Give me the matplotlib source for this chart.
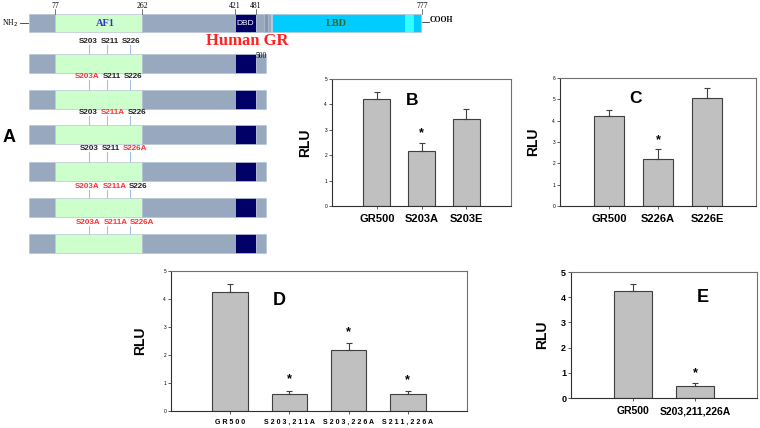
import matplotlib
matplotlib.use("Agg")
import matplotlib.pyplot as plt
from matplotlib.patches import Rectangle

plt.rcParams['font.family'] = ['Liberation Sans', 'DejaVu Sans']

# ---------------- data ----------------
gr_landmarks = ["77", "262", "421", "481", "777"]
site_rows = [
    ["S203", "S211", "S226"],
    ["S203A", "S211", "S226"],
    ["S203", "S211A", "S226"],
    ["S203", "S211", "S226A"],
    ["S203A", "S211A", "S226"],
    ["S203A", "S211A", "S226A"],
]

b_cats = ["GR500", "S203A", "S203E"]
b_vals = [4.23, 2.18, 3.42]
b_err = [0.26, 0.30, 0.38]
b_sig = [False, True, False]

c_cats = ["GR500", "S226A", "S226E"]
c_vals = [4.20, 2.20, 5.07]
c_err = [0.30, 0.45, 0.46]
c_sig = [False, True, False]

d_cats = ["GR500", "S203,211A", "S203,226A", "S211,226A"]
d_vals = [4.25, 0.60, 2.18, 0.60]
d_err = [0.29, 0.12, 0.25, 0.10]
d_sig = [False, True, True, True]

e_cats = ["GR500", "S203,211,226A"]
e_vals = [4.24, 0.48]
e_err = [0.28, 0.10]
e_sig = [False, True]

# ---------------- figure ----------------
W, H = 760, 428
fig = plt.figure(figsize=(7.6, 4.28), dpi=100)
fig.patch.set_facecolor('white')

# schematic canvas in pixel coordinates
ax0 = fig.add_axes([0, 0, 1, 1])
ax0.set_xlim(0, W)
ax0.set_ylim(H, 0)
ax0.axis('off')

GRAY = '#98a8be'
GREEN = '#ccffcc'
NAVY = '#000066'
CYAN = '#00ccff'
LCYAN = '#33ffff'
EDGE = '#b8c4d4'


def rect(x0, x1, y, h, color, z=2):
    ax0.add_patch(Rectangle((x0, y), x1 - x0, h, facecolor=color,
                            edgecolor=EDGE, lw=0.5, zorder=z))

# full-length receptor
ty, th = 14, 18
rect(29, 55, ty, th, GRAY)
rect(55, 142, ty, th, GREEN)
rect(142, 235, ty, th, GRAY)
rect(235, 256, ty, th, NAVY)
rect(256, 271, ty, th, GRAY)
rect(264, 268, ty, th, '#8797ae', z=3)
rect(272, 405, ty, th, CYAN)
rect(405, 413, ty, th, LCYAN)
rect(413, 421, ty, th, CYAN)
ax0.text(105, ty + th / 2, "AF1", color='#3333cc', fontsize=7.5, ha='center',
         va='center', family='Liberation Serif', fontweight='bold')
ax0.text(245.5, ty + th / 2, "DBD", color='white', fontsize=6, ha='center', va='center')
ax0.text(336, ty + th / 2, "LBD", color='#336633', fontsize=7.5, ha='center',
         va='center', family='Liberation Serif', fontweight='bold')
for lab, xx in zip(gr_landmarks, [55, 142, 235, 256, 422]):
    ax0.plot([xx, xx], [9, 14], color='#444444', lw=0.5, zorder=4)
    ax0.text(xx, 6, lab, fontsize=5.5, ha='center', va='center', family='Liberation Serif')
ax0.plot([20, 28], [23, 23], color='#333333', lw=0.6)
ax0.text(2, 23, r"NH$_2$", fontsize=5.5, ha='left', va='center', family='Liberation Serif')
ax0.plot([422, 429], [22, 22], color='#333333', lw=0.6)
ax0.text(430, 20, "COOH", fontsize=5.5, ha='left', va='center',
         family='Liberation Serif', fontweight='bold')
ax0.text(247, 41, "Human GR", color='#ff2222', fontsize=12, ha='center', va='center',
         family='Liberation Serif', fontweight='bold')
ax0.text(261, 56, "500", fontsize=5.5, ha='center', va='center', family='Liberation Serif')

# truncated constructs
row_tops = [54, 90, 125, 162, 198, 234]
label_ys = [41, 76, 112, 148, 186, 222]
label_lefts = [79, 75, 79, 80, 75, 76]
line_xs = [89, 107, 130]
rh = 19
for rt in row_tops:
    rect(29, 55, rt, rh, GRAY)
    rect(55, 142, rt, rh, GREEN)
    rect(142, 235, rt, rh, GRAY)
    rect(235, 256, rt, rh, NAVY)
    rect(256, 266, rt, rh, GRAY)

fig.canvas.draw()
for sites, ly, lx, rt in zip(site_rows, label_ys, label_lefts, row_tops):
    for xx in line_xs:
        ax0.plot([xx, xx], [ly + 4, rt + 1], color='#9dc3e6', lw=0.8, zorder=1)
    prev = None
    for s in sites:
        col = '#ff3333' if s.endswith('A') else '#222222'
        if prev is None:
            prev = ax0.text(lx, ly, s, fontsize=5.8, color=col, ha='left', va='center',
                            fontweight='bold')
        else:
            prev = ax0.annotate(s, xy=(1, 0.5), xycoords=prev, xytext=(2, 0),
                                textcoords='offset points', fontsize=5.8, color=col,
                                ha='left', va='center', fontweight='bold')

ax0.text(9, 137, "A", fontsize=13, fontweight='bold', ha='center', va='center')


# ---------------- bar charts ----------------
def px_axes(x0, y0, x1, y1):
    return fig.add_axes([x0 / W, (H - y1) / H, (x1 - x0) / W, (y1 - y0) / H])


def bar_panel(ax, cats, vals, errs, sig, ymax, letter, lpos, lsize,
              ytick_fs, ytick_bold, xtick_fs, spaced, rlu_x, ast_off):
    xs = list(range(len(cats)))
    ax.bar(xs, vals, width=0.6, color='#c0c0c0', edgecolor='#404040', lw=0.8, zorder=2)
    ax.errorbar(xs, vals, yerr=[[0] * len(vals), errs], fmt='none', ecolor='#404040',
                elinewidth=0.8, capsize=2.2, capthick=0.8, zorder=3)
    for x, v, e, s in zip(xs, vals, errs, sig):
        if s:
            ax.text(x, v + e + ast_off, "*", ha='center', va='center', fontsize=9,
                    fontweight='bold')
    ax.set_xlim(-1, len(cats))
    ax.set_ylim(0, ymax)
    ax.set_yticks(range(0, ymax + 1))
    ax.set_yticklabels([str(i) for i in range(0, ymax + 1)], fontsize=ytick_fs,
                       fontweight='bold' if ytick_bold else 'normal')
    ax.set_xticks(xs)
    labs = [" ".join(c) for c in cats] if spaced else cats
    ax.set_xticklabels(labs, fontsize=xtick_fs, fontweight='bold')
    ax.tick_params(axis='both', length=2, width=0.6, pad=1.5, color='#404040')
    ax.tick_params(axis='x', pad=4)
    for sp in ax.spines.values():
        sp.set_color('#707070')
        sp.set_linewidth(0.8)
    ax.spines['bottom'].set_color('#303030')
    ax.spines['left'].set_color('#303030')
    ax.set_ylabel("RLU", fontsize=10, fontweight='bold', labelpad=0)
    ax.yaxis.set_label_coords(rlu_x, 0.5)
    ax.text(lpos[0], lpos[1], letter, transform=ax.transAxes, fontsize=lsize,
            fontweight='bold', ha='center', va='center')


axB = px_axes(332, 79, 511, 206)
bar_panel(axB, b_cats, b_vals, b_err, b_sig, 5, "B", (0.447, 0.827), 12.5,
          3.5, False, 8, False, -0.11, 0.4)

axC = px_axes(560, 78, 756, 206)
bar_panel(axC, c_cats, c_vals, c_err, c_sig, 6, "C", (0.383, 0.836), 12.5,
          3.5, False, 8, False, -0.10, 0.45)

axD = px_axes(171, 271, 467, 411)
bar_panel(axD, d_cats, d_vals, d_err, d_sig, 5, "D", (0.365, 0.786), 13,
          3.5, False, 5, True, -0.08, 0.4)

axE = px_axes(571, 272, 757, 398)
bar_panel(axE, e_cats, e_vals, e_err, e_sig, 5, "E", (0.71, 0.794), 13,
          6.5, True, 7.5, False, -0.115, 0.4)

fig.savefig("out.png", dpi=100, facecolor='white')
